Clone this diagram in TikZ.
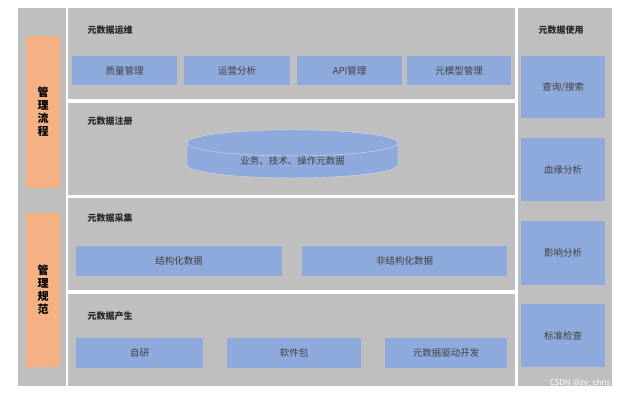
\documentclass[tikz,border=0pt]{standalone}
\usepackage{fontspec}
\setmainfont{Noto Sans CJK SC}
\usetikzlibrary{shapes.geometric}
\definecolor{panelgray}{HTML}{BFBFBF}
\definecolor{itemblue}{HTML}{8EA9DB}
\definecolor{mgmtorange}{HTML}{F4B183}
\tikzset{
  panel/.style={fill=panelgray, draw=none},
  item/.style={rectangle, fill=itemblue, draw=none, inner sep=0pt, text=black!75, font=\fontsize{9.5}{11}\selectfont, anchor=north west},
  mgmt/.style={rectangle, fill=mgmtorange, draw=none, inner sep=0pt, anchor=north west, font=\bfseries\fontsize{11}{13}\selectfont, align=center},
  heading/.style={anchor=west, font=\bfseries\fontsize{9}{11}\selectfont, text=black!85}
}
\begin{document}
\begin{tikzpicture}[x=1pt,y=-1pt]
    \useasboundingbox[fill=white] (0,0) rectangle (628,400);

    % left column
    \fill[panel] (18,8) rectangle (66,386);
    \node (flow) [mgmt, minimum width=34pt, minimum height=152pt] at (26,36) {管\\理\\流\\程};
    \node (norm) [mgmt, minimum width=34pt, minimum height=154pt] at (26,213) {管\\理\\规\\范};

    % middle rows
    \fill[panel] (68,8) rectangle (515,99);
    \fill[panel] (68,103) rectangle (515,195);
    \fill[panel] (68,198) rectangle (515,290);
    \fill[panel] (68,294) rectangle (515,386);

    \node (opsT) [heading] at (84,30) {元数据运维};
    \node (quality) [item, minimum width=105pt, minimum height=29pt] at (72,56) {质量管理};
    \node (opana) [item, minimum width=106pt, minimum height=29pt] at (184,56) {运营分析};
    \node (api) [item, minimum width=105pt, minimum height=29pt] at (297,56) {API管理};
    \node (meta) [item, minimum width=104pt, minimum height=29pt] at (407,56) {元模型管理};

    \node (regT) [heading] at (84,121) {元数据注册};
    \node (store) [cylinder, shape border rotate=90, aspect=0.25, fill=itemblue, draw=white!85!black,
        minimum width=211pt, minimum height=45pt, inner sep=0pt, text=black!75,
        font=\fontsize{9.5}{11}\selectfont] at (292.5,160.5) {业务、技术、操作元数据};

    \node (colT) [heading] at (84,218) {元数据采集};
    \node (struct) [item, minimum width=206pt, minimum height=30pt] at (76,246) {结构化数据};
    \node (unstruct) [item, minimum width=205pt, minimum height=30pt] at (302,246) {非结构化数据};

    \node (genT) [heading] at (84,316) {元数据产生};
    \node (self) [item, minimum width=127pt, minimum height=30pt] at (76,338) {自研};
    \node (pkg) [item, minimum width=134pt, minimum height=30pt] at (227,338) {软件包};
    \node (drive) [item, minimum width=122pt, minimum height=30pt] at (385,338) {元数据驱动开发};

    % right column
    \fill[panel] (518,8) rectangle (612,386);
    \node (useT) [anchor=center, font=\bfseries\fontsize{9}{11}\selectfont, text=black!85] at (561,30) {元数据使用};
    \node (query) [item, minimum width=84pt, minimum height=62pt] at (521,56) {查询/搜索};
    \node (lineage) [item, minimum width=84pt, minimum height=63pt] at (521,138) {血缘分析};
    \node (impact) [item, minimum width=84pt, minimum height=64pt] at (521,221) {影响分析};
    \node (check) [item, minimum width=84pt, minimum height=63pt] at (521,304) {标准检查};

    \node (mark) [anchor=east, text=white, font=\fontsize{8}{9}\selectfont] at (614,383) {CSDN @zy\_chris};
\end{tikzpicture}
\end{document}
